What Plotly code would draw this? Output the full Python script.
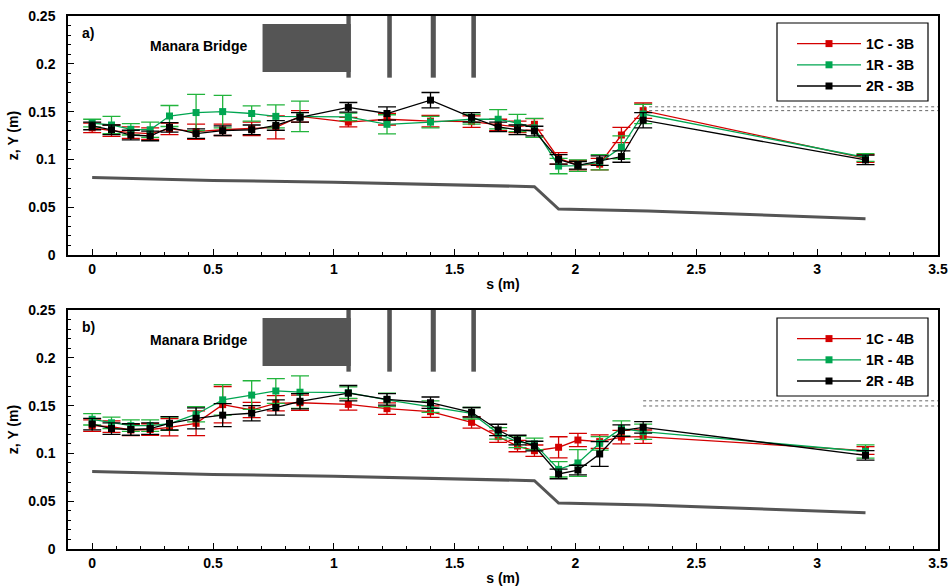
import plotly.graph_objects as go

# Streamwise stations (m)
s = [0.0, 0.08, 0.16, 0.24, 0.32, 0.43, 0.54, 0.66, 0.76, 0.86, 1.06, 1.22,
     1.40, 1.57, 1.68, 1.76, 1.83, 1.93, 2.01, 2.10, 2.19, 2.28, 3.20]

# Panel a) water surface, 3B runs
z_1c_3b = [0.133, 0.130, 0.128, 0.127, 0.132, 0.129, 0.131, 0.132, 0.1335, 0.145, 0.139, 0.142,
           0.140, 0.1395, 0.136, 0.134, 0.1367, 0.101, 0.094, 0.095, 0.1255, 0.151, 0.101]
e_1c_3b = [0.005, 0.006, 0.006, 0.006, 0.006, 0.008, 0.006, 0.007, 0.012, 0.006, 0.005, 0.006,
           0.006, 0.006, 0.006, 0.006, 0.006, 0.006, 0.005, 0.006, 0.008, 0.008, 0.004]
z_1r_3b = [0.138, 0.136, 0.1315, 0.131, 0.1454, 0.149, 0.150, 0.148, 0.145, 0.145, 0.1445, 0.1367,
           0.139, 0.142, 0.142, 0.138, 0.133, 0.093, 0.0935, 0.097, 0.1127, 0.1475, 0.102]
e_1r_3b = [0.004, 0.009, 0.006, 0.008, 0.011, 0.019, 0.017, 0.008, 0.012, 0.016, 0.004, 0.010,
           0.006, 0.005, 0.010, 0.009, 0.010, 0.008, 0.006, 0.008, 0.012, 0.010, 0.004]
z_2r_3b = [0.135, 0.131, 0.1255, 0.1245, 0.1335, 0.127, 0.130, 0.131, 0.1355, 0.144, 0.1545, 0.148,
           0.162, 0.144, 0.134, 0.131, 0.1297, 0.100, 0.0938, 0.0987, 0.103, 0.141, 0.0995]
e_2r_3b = [0.004, 0.005, 0.005, 0.005, 0.005, 0.005, 0.005, 0.005, 0.005, 0.005, 0.005, 0.007,
           0.008, 0.005, 0.005, 0.005, 0.005, 0.005, 0.004, 0.005, 0.006, 0.008, 0.005]

# Panel b) water surface, 4B runs
z_1c_4b = [0.129, 0.128, 0.1245, 0.125, 0.1273, 0.1315, 0.151, 0.1454, 0.1524, 0.153, 0.1513, 0.1468,
           0.1437, 0.1325, 0.1175, 0.1077, 0.1028, 0.1064, 0.114, 0.1123, 0.117, 0.1175, 0.103]
e_1c_4b = [0.006, 0.006, 0.006, 0.006, 0.009, 0.013, 0.019, 0.008, 0.008, 0.008, 0.006, 0.006,
           0.006, 0.006, 0.006, 0.006, 0.006, 0.011, 0.007, 0.007, 0.007, 0.007, 0.004]
z_1r_4b = [0.1357, 0.132, 0.129, 0.129, 0.131, 0.141, 0.156, 0.161, 0.1653, 0.164, 0.1635, 0.156,
           0.149, 0.142, 0.121, 0.112, 0.110, 0.0833, 0.090, 0.1105, 0.126, 0.1227, 0.102]
e_1r_4b = [0.006, 0.006, 0.006, 0.006, 0.007, 0.008, 0.016, 0.015, 0.013, 0.017, 0.006, 0.007,
           0.006, 0.006, 0.006, 0.006, 0.006, 0.008, 0.014, 0.007, 0.008, 0.008, 0.007]
z_2r_4b = [0.1307, 0.126, 0.125, 0.126, 0.1315, 0.1367, 0.140, 0.142, 0.148, 0.1545, 0.163, 0.1566,
           0.153, 0.143, 0.1245, 0.114, 0.1077, 0.0785, 0.0826, 0.0994, 0.1238, 0.1273, 0.098]
e_2r_4b = [0.006, 0.006, 0.006, 0.006, 0.007, 0.011, 0.012, 0.008, 0.008, 0.008, 0.008, 0.006,
           0.006, 0.005, 0.006, 0.005, 0.005, 0.005, 0.005, 0.013, 0.006, 0.006, 0.005]

# Channel bed profile
bed_s = [0.0, 0.5, 1.0, 1.5, 1.83, 1.93, 2.3, 3.2]
bed_z = [0.081, 0.078, 0.076, 0.073, 0.0715, 0.048, 0.046, 0.038]

# Bridge deck and piers (s0, s1, z0, z1)
deck = (0.705, 1.07, 0.1914, 0.2416)
piers = [(1.052, 1.070), (1.221, 1.240), (1.401, 1.422), (1.569, 1.588)]
pier_bottom = 0.1855

# Reference levels shown downstream of the bridge
ref_s = (2.28, 3.5)
ref_a = [0.155, 0.151]
ref_b = [0.155, 0.1496]

RED, GREEN, BLACK = "#d40000", "#00a651", "#000000"
GREEN_ERR = "#22b43c"
GREY = "#555555"
FONT = dict(family="Liberation Sans, Arial, sans-serif", size=14, color="black", weight="bold")

fig = go.Figure()

panels = [
    ("a)", "y", "x", "legend",
     [("1C - 3B", z_1c_3b, e_1c_3b, RED, RED),
      ("1R - 3B", z_1r_3b, e_1r_3b, GREEN, GREEN_ERR),
      ("2R - 3B", z_2r_3b, e_2r_3b, BLACK, BLACK)], ref_a),
    ("b)", "y2", "x2", "legend2",
     [("1C - 4B", z_1c_4b, e_1c_4b, RED, RED),
      ("1R - 4B", z_1r_4b, e_1r_4b, GREEN, GREEN_ERR),
      ("2R - 4B", z_2r_4b, e_2r_4b, BLACK, BLACK)], ref_b),
]

for label, yref, xref, leg, series, refs in panels:
    # bed
    fig.add_trace(go.Scatter(x=bed_s, y=bed_z, xaxis=xref, yaxis=yref, mode="lines",
                             line=dict(color=GREY, width=3), showlegend=False, hoverinfo="skip"))
    # reference levels
    for r in refs:
        fig.add_trace(go.Scatter(x=list(ref_s), y=[r, r], xaxis=xref, yaxis=yref, mode="lines",
                                 line=dict(color="#666666", width=1, dash="dot"),
                                 showlegend=False, hoverinfo="skip"))
    for name, z, e, col, ecol in series:
        fig.add_trace(go.Scatter(
            x=s, y=z, xaxis=xref, yaxis=yref, name=name, legend=leg,
            mode="lines+markers",
            line=dict(color=col, width=1.3),
            marker=dict(symbol="square", size=7, color=col),
            error_y=dict(type="data", array=e, visible=True, color=ecol, thickness=1.3, width=9),
        ))

    # bridge
    fig.add_shape(type="rect", xref=xref, yref=yref, x0=deck[0], x1=deck[1], y0=deck[2], y1=deck[3],
                  fillcolor=GREY, line=dict(width=0), layer="above")
    for p0, p1 in piers:
        fig.add_shape(type="rect", xref=xref, yref=yref, x0=p0, x1=p1, y0=pier_bottom, y1=0.25,
                      fillcolor=GREY, line=dict(width=0), layer="above")
    fig.add_annotation(x=0.44, y=0.2186, xref=xref, yref=yref, text="Manara Bridge",
                       showarrow=False, font=FONT)
    fig.add_annotation(x=-0.017, y=0.2326, xref=xref, yref=yref, text=label,
                       showarrow=False, font=FONT)

W, H = 950, 588
ML, MR, MT, MB = 68, 12, 16, 39
ph = H - MT - MB
top_dom = [(549 - 255) / ph, 1.0]
bot_dom = [0.0, (549 - 310) / ph]

axis_common = dict(showline=True, linewidth=1.5, linecolor="black", mirror=True,
                   ticks="inside", ticklen=6, tickwidth=1.2, tickcolor="black",
                   showgrid=False, zeroline=False, tickfont=FONT, automargin=False)

xcommon = dict(axis_common, range=[-0.1, 3.5], dtick=0.5, tick0=0,
               minor=dict(dtick=0.1, ticks="inside", ticklen=3, tickcolor="black", tickwidth=1),
               title=dict(text="s (m)", font=FONT, standoff=4))
ycommon = dict(axis_common, range=[0, 0.25], dtick=0.05, tick0=0, ticklabelstandoff=8,
               minor=dict(dtick=0.01, ticks="inside", ticklen=3, tickcolor="black", tickwidth=1),
               title=dict(text="z, Y (m)", font=FONT, standoff=6))

leg_common = dict(font=FONT, bgcolor="rgba(0,0,0,0)", borderwidth=0, itemwidth=64,
                  xanchor="left", yanchor="top", tracegroupgap=0)


def px_to_paper_x(px):
    return (px - ML) / (W - ML - MR)


def px_to_paper_y(py):
    return (H - MB - py) / ph


fig.update_layout(
    width=W, height=H, margin=dict(l=ML, r=MR, t=MT, b=MB, autoexpand=False),
    paper_bgcolor="white", plot_bgcolor="white",
    font=FONT,
    xaxis=dict(xcommon, domain=[0, 1], anchor="y"),
    yaxis=dict(ycommon, domain=top_dom, anchor="x"),
    xaxis2=dict(xcommon, domain=[0, 1], anchor="y2"),
    yaxis2=dict(ycommon, domain=bot_dom, anchor="x2"),
    legend=dict(leg_common, x=px_to_paper_x(792), y=px_to_paper_y(28)),
    legend2=dict(leg_common, x=px_to_paper_x(792), y=px_to_paper_y(323)),
    showlegend=True,
)

# legend frames
for y0, y1 in [(23, 101), (318, 396)]:
    fig.add_shape(type="rect", xref="paper", yref="paper",
                  x0=px_to_paper_x(777), x1=px_to_paper_x(928),
                  y0=px_to_paper_y(y1), y1=px_to_paper_y(y0),
                  line=dict(color="black", width=1.2), fillcolor="rgba(0,0,0,0)")

fig.write_html("out.html")
